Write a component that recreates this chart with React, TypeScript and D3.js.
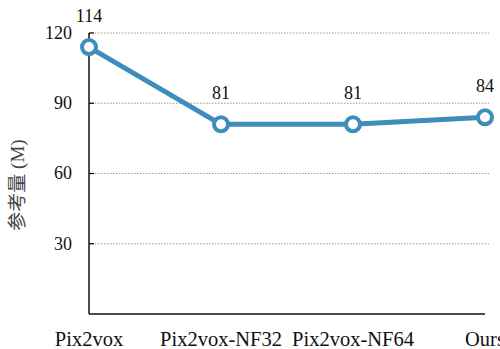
import React from "react";
import * as d3 from "d3";

const categories = ["Pix2vox", "Pix2vox-NF32", "Pix2vox-NF64", "Ours"];
const values = [114, 81, 81, 84];
const yTicks = [30, 60, 90, 120];
const yLabel = "参考量 (M)";

export default function App() {
  const W = 500, H = 349;
  const left = 89, right = 485, top = 33, bottom = 314;
  const x = d3.scalePoint<string>().domain(categories).range([left, right]);
  const y = d3.scaleLinear().domain([0, 120]).range([bottom, top]);
  const line = d3.line<number>().x((_, i) => x(categories[i])!).y((d) => y(d));
  const font = "Liberation Serif, Times New Roman, DejaVu Serif, serif";
  const color = "#3F8DBD";
  return (
    <svg width={W} height={H} fontFamily={font} style={{ position: "absolute", left: 0, top: 0, background: "#fff" }}>
      {yTicks.map((t) => (
        <g key={t}>
          <line x1={left} x2={489} y1={y(t)} y2={y(t)} stroke="#999" strokeWidth={1} strokeDasharray="1.5,1.5" />
          <line x1={left} x2={left + 5} y1={y(t)} y2={y(t)} stroke="#000" strokeWidth={1.2} />
          <text x={left - 17} y={y(t)} dy="0.33em" textAnchor="end" fontSize={18} fill="#111" fontFamily={font}>{t}</text>
        </g>
      ))}
      <line x1={left} x2={left} y1={top} y2={bottom} stroke="#111" strokeWidth={1.5} />
      <line x1={left} x2={right} y1={bottom} y2={bottom} stroke="#111" strokeWidth={1.5} />
      <path d={line(values)!} fill="none" stroke={color} strokeWidth={5} strokeLinejoin="round" />
      {values.map((v, i) => (
        <g key={i}>
          <circle cx={x(categories[i])} cy={y(v)} r={7} fill="#fff" stroke={color} strokeWidth={4} />
          <text x={x(categories[i])} y={y(v) - 25} textAnchor="middle" fontSize={18} fill="#111" fontFamily={font}>{v}</text>
        </g>
      ))}
      {categories.map((c) => (
        <text key={c} x={x(c)} y={346} textAnchor="middle" fontSize={20.5} fill="#111" fontFamily={font}>{c}</text>
      ))}
      <text transform={`translate(24,185) rotate(-90)`} textAnchor="middle" fontSize={19} fill="#444"
        fontFamily="Liberation Serif, Noto Sans CJK SC, serif">{yLabel}</text>
    </svg>
  );
}
